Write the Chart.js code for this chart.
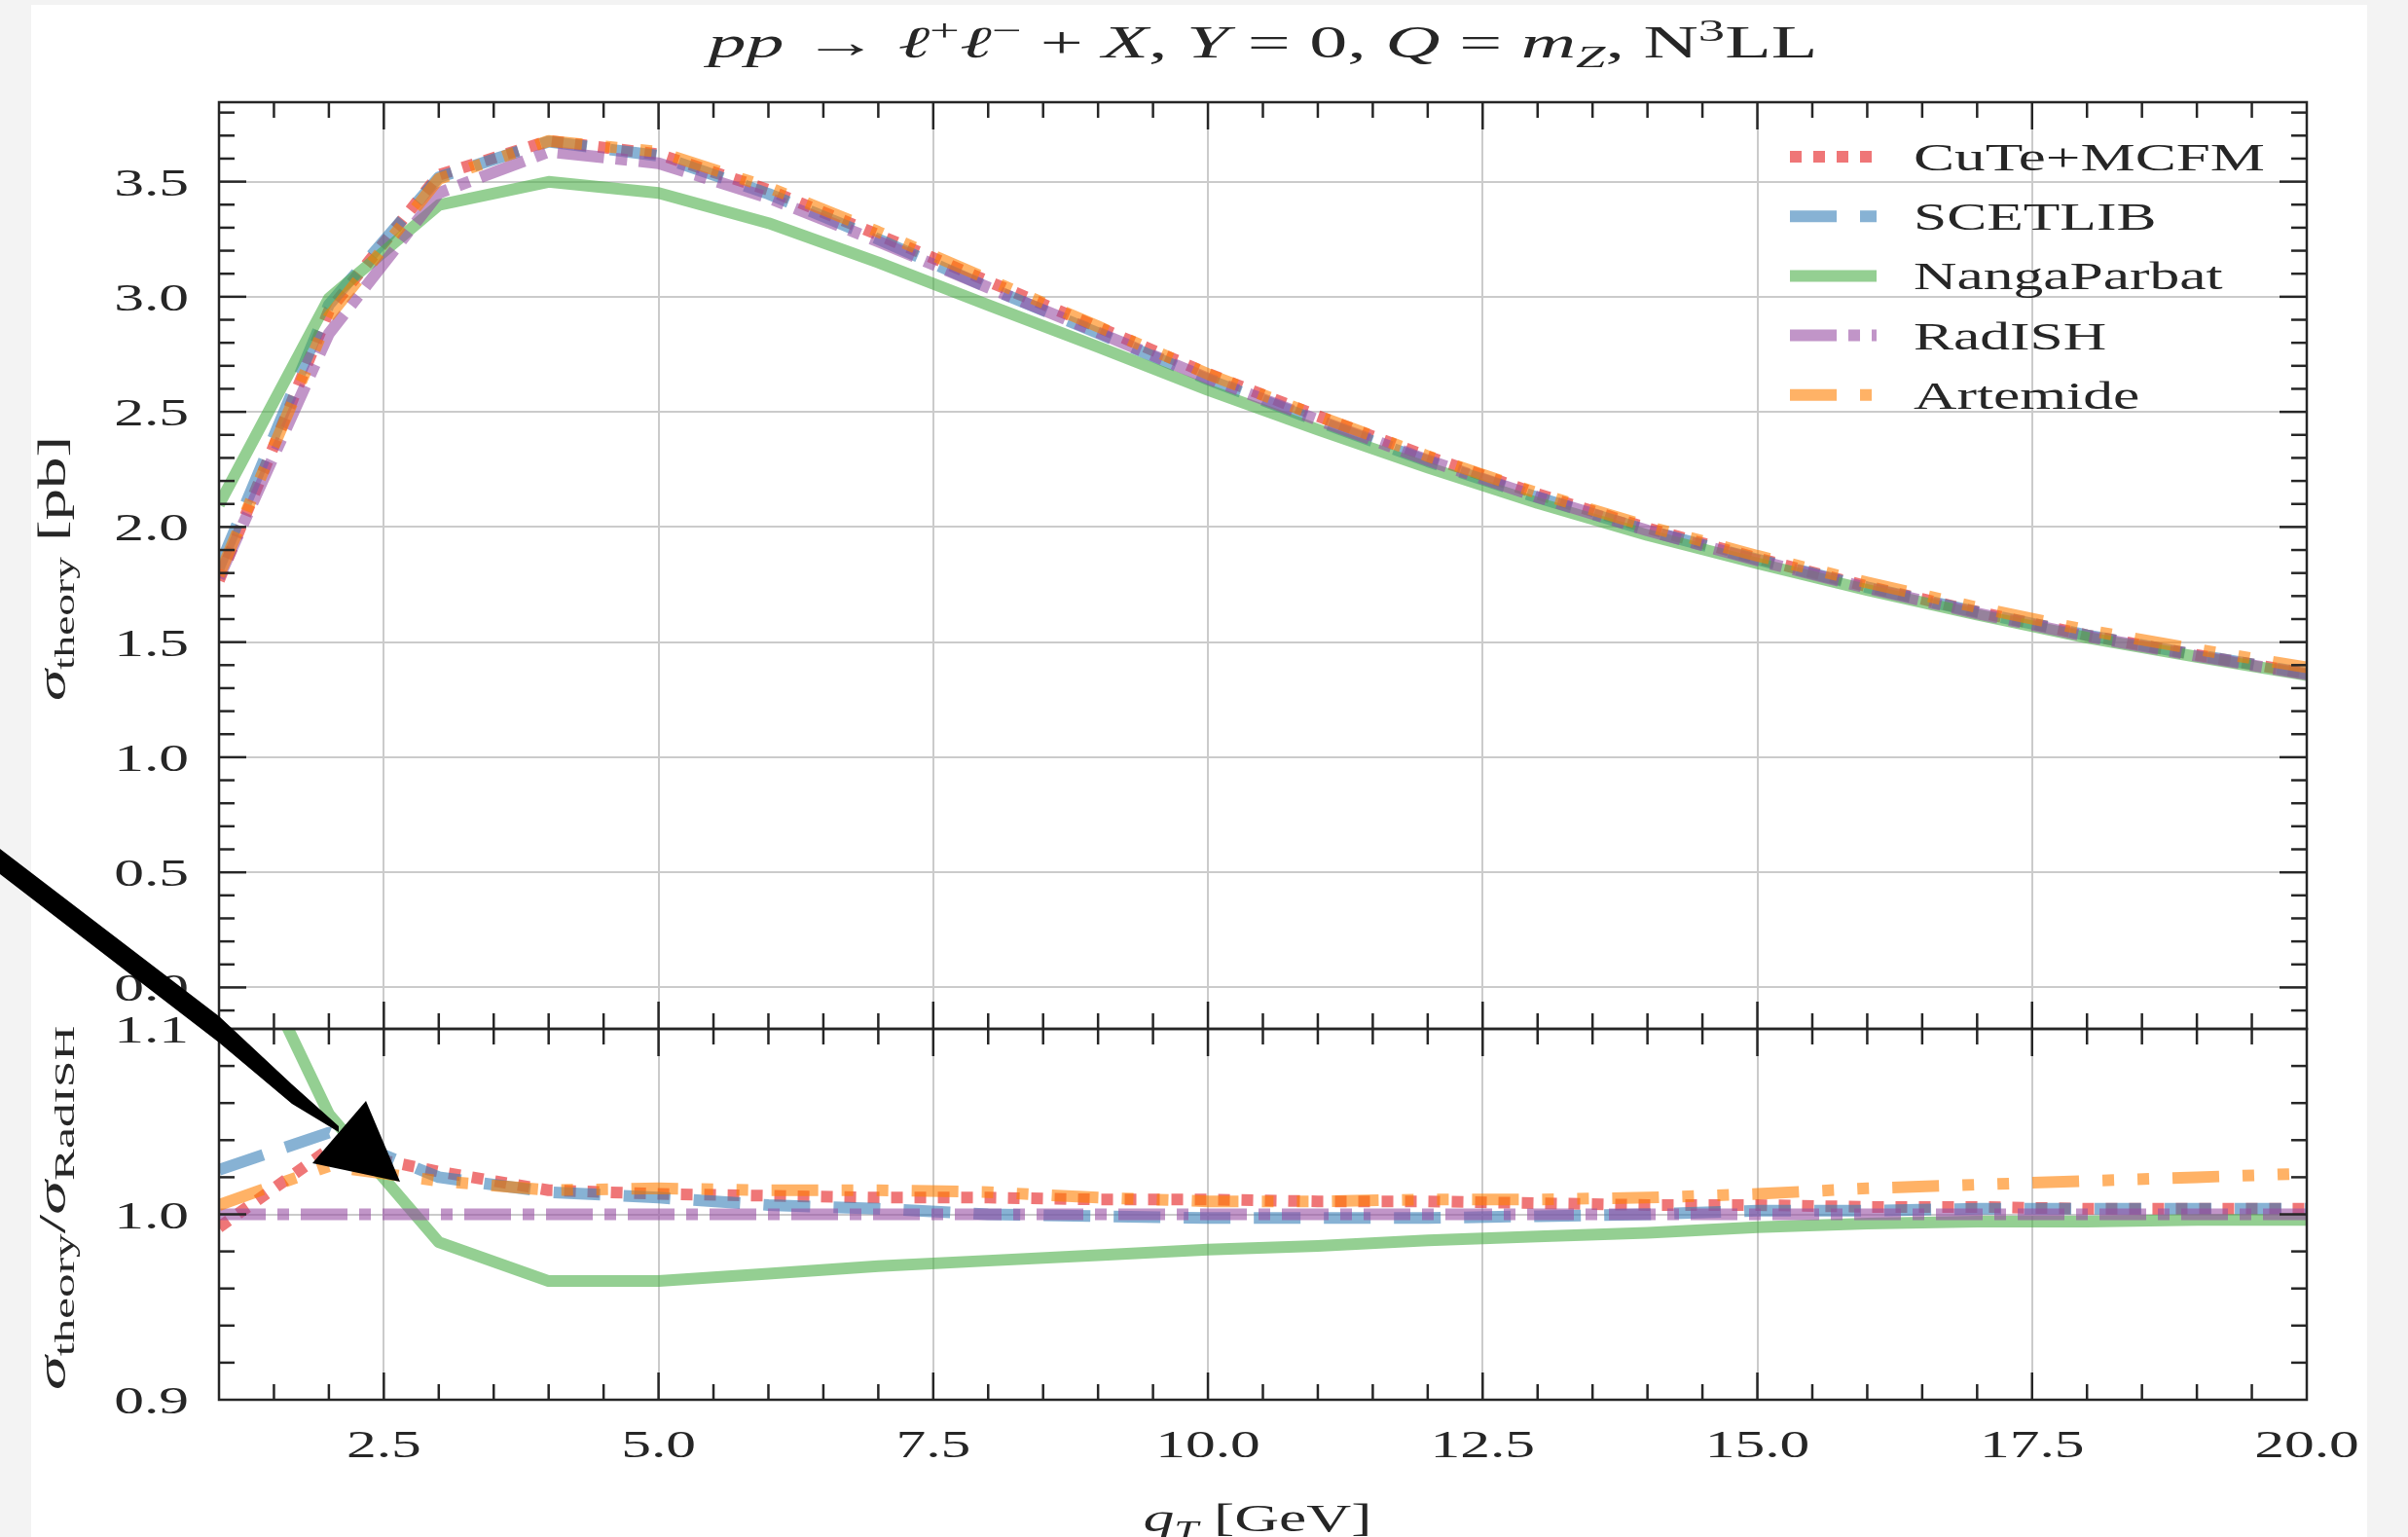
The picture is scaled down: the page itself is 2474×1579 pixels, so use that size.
<!DOCTYPE html>
<html>
<head>
<meta charset="utf-8">
<script src="https://cdn.jsdelivr.net/npm/chart.js@4.4.1/dist/chart.umd.min.js"></script>
<style>
  html, body { margin: 0; padding: 0; background: #f3f3f3; }
  #page { position: relative; width: 2474px; height: 1579px; overflow: hidden; }
  #sheet { position: absolute; left: 32px; top: 5px; width: 2400px; height: 1574px; background: #fff; }
  canvas { position: absolute; left: 0; top: 0; }
</style>
</head>
<body>
<div id="page">
  <div id="sheet"></div>
  <canvas id="upper" width="2474" height="1579"></canvas>
  <canvas id="lower" width="2474" height="1579"></canvas>
</div>
<script>
// q_T grid [GeV]
var qT = [1, 2, 3, 4, 5, 6, 7, 8, 9, 10, 11, 12, 13, 14, 15, 16, 17, 18, 19, 20];

// sigma_theory [pb]
var cuteMcfm    = [1.768, 2.939, 3.529, 3.677, 3.619, 3.464, 3.269, 3.067, 2.868, 2.666, 2.482, 2.306, 2.143, 1.995, 1.864, 1.742, 1.632, 1.530, 1.444, 1.364];
var scetlib     = [1.823, 2.965, 3.519, 3.674, 3.612, 3.447, 3.250, 3.040, 2.842, 2.640, 2.460, 2.285, 2.128, 1.985, 1.859, 1.738, 1.630, 1.530, 1.444, 1.364];
var nangaParbat = [2.097, 2.993, 3.398, 3.499, 3.451, 3.320, 3.149, 2.964, 2.782, 2.595, 2.423, 2.258, 2.104, 1.965, 1.842, 1.726, 1.619, 1.519, 1.436, 1.356];
var radish      = [1.780, 2.840, 3.450, 3.630, 3.580, 3.430, 3.240, 3.040, 2.845, 2.645, 2.465, 2.290, 2.130, 1.985, 1.855, 1.735, 1.625, 1.525, 1.440, 1.360];
var artemide    = [1.789, 2.914, 3.512, 3.677, 3.630, 3.475, 3.282, 3.076, 2.871, 2.664, 2.482, 2.308, 2.147, 2.003, 1.875, 1.759, 1.651, 1.552, 1.469, 1.390];

// sigma_theory / sigma_RadISH
var cuteRatio     = [0.993, 1.035, 1.023, 1.013, 1.011, 1.010, 1.009, 1.009, 1.008, 1.008, 1.007, 1.007, 1.006, 1.005, 1.005, 1.004, 1.004, 1.003, 1.003, 1.003];
var scetRatio     = [1.024, 1.044, 1.020, 1.012, 1.009, 1.005, 1.003, 1.000, 0.999, 0.998, 0.998, 0.998, 0.999, 1.000, 1.002, 1.002, 1.003, 1.003, 1.003, 1.003];
var nangaRatio    = [1.178, 1.054, 0.985, 0.964, 0.964, 0.968, 0.972, 0.975, 0.978, 0.981, 0.983, 0.986, 0.988, 0.990, 0.993, 0.995, 0.996, 0.996, 0.997, 0.997];
var radishRatio   = [1, 1, 1, 1, 1, 1, 1, 1, 1, 1, 1, 1, 1, 1, 1, 1, 1, 1, 1, 1];
var artemideRatio = [1.005, 1.026, 1.018, 1.013, 1.014, 1.013, 1.013, 1.012, 1.009, 1.007, 1.007, 1.008, 1.008, 1.009, 1.011, 1.014, 1.016, 1.018, 1.020, 1.022];

var seriesNames = ['CuTe+MCFM', 'SCETLIB', 'NangaParbat', 'RadISH', 'Artemide'];

// tick values
var xTickValues = [2.5, 5.0, 7.5, 10.0, 12.5, 15.0, 17.5, 20.0];
var sigmaTickValues = [0.0, 0.5, 1.0, 1.5, 2.0, 2.5, 3.0, 3.5];
var ratioTickValues = [0.9, 1.0, 1.1];

// line styles (Set1 colours at alpha 0.6)
var styles = [
  { color: 'rgba(228,26,28,0.6)',  dash: [12, 12] },
  { color: 'rgba(55,126,184,0.6)', dash: [48, 24] },
  { color: 'rgba(77,175,74,0.6)',  dash: [] },
  { color: 'rgba(152,78,163,0.6)', dash: [48, 12, 12, 12] },
  { color: 'rgba(255,127,0,0.6)',  dash: [48, 24, 12, 24, 12, 24] }
];

var FONT = '"Liberation Serif", "Times New Roman", serif';
var TEXT = '#262626';
var SIZE = 41;

function runFont(r, size) {
  var s = (r.sup || r.sub) ? size * 0.7 : size;
  return (r.it ? 'italic ' : '') + s + 'px ' + FONT;
}

// draws mixed italic / super / subscript text, stretched along the text direction
function drawRuns(ctx, runs, o) {
  ctx.save();
  var widths = runs.map(function (r) {
    ctx.font = runFont(r, o.size);
    return ctx.measureText(r.t).width;
  });
  var total = widths.reduce(function (a, b) { return a + b; }, 0);
  var sx = o.width ? o.width / total : 1.5;
  ctx.translate(o.x, o.y);
  if (o.rotate) ctx.rotate(o.rotate);
  ctx.scale(sx, 1);
  var cx = o.align === 'right' ? -total : (o.align === 'left' ? 0 : -total / 2);
  ctx.fillStyle = TEXT;
  ctx.textAlign = 'left';
  ctx.textBaseline = 'alphabetic';
  runs.forEach(function (r, i) {
    ctx.font = runFont(r, o.size);
    var dy = r.sup ? -o.size * 0.38 : (r.sub ? o.size * 0.22 : 0);
    ctx.fillText(r.t, cx, dy);
    cx += widths[i];
  });
  ctx.restore();
}

function isOneOf(v, list) {
  return list.some(function (m) { return Math.abs(m - v) < 1e-6; });
}

// inward ticks on all four sides plus the box
function drawFrame(chart, yMajors, yStep) {
  var ctx = chart.ctx, a = chart.chartArea;
  var xs = chart.scales.x, ys = chart.scales.y;
  var MAJ = 28, MIN = 16;
  ctx.save();
  ctx.strokeStyle = TEXT;
  ctx.lineWidth = 2.5;
  function seg(x1, y1, x2, y2) {
    ctx.beginPath(); ctx.moveTo(x1, y1); ctx.lineTo(x2, y2); ctx.stroke();
  }
  var k, v, p, L;
  for (k = Math.ceil(xs.min / 0.5); k * 0.5 <= xs.max + 1e-9; k++) {
    v = +(k * 0.5).toFixed(6);
    if (v <= xs.min || v >= xs.max) continue;
    L = isOneOf(v, xTickValues) ? MAJ : MIN;
    p = xs.getPixelForValue(v);
    seg(p, a.top, p, a.top + L);
    seg(p, a.bottom, p, a.bottom - L);
  }
  for (k = Math.ceil(ys.min / yStep - 1e-9); k * yStep <= ys.max + 1e-9; k++) {
    v = +(k * yStep).toFixed(6);
    if (v <= ys.min + 1e-9 || v >= ys.max - 1e-9) continue;
    L = isOneOf(v, yMajors) ? MAJ : MIN;
    p = ys.getPixelForValue(v);
    seg(a.left, p, a.left + L, p);
    seg(a.right, p, a.right - L, p);
  }
  ctx.strokeRect(a.left, a.top, a.right - a.left, a.bottom - a.top);
  ctx.restore();
}

function drawYLabels(chart) {
  var a = chart.chartArea, ys = chart.scales.y;
  ys.ticks.forEach(function (t) {
    drawRuns(chart.ctx, [{ t: t.value.toFixed(1) }],
      { x: a.left - 31, y: ys.getPixelForValue(t.value) + 14, align: 'right', size: SIZE });
  });
}

function makeDatasets(series) {
  return series.map(function (vals, i) {
    return {
      label: seriesNames[i],
      data: qT.map(function (q, j) { return { x: q, y: vals[j] }; }),
      borderColor: styles[i].color,
      borderDash: styles[i].dash,
      borderWidth: 12,
      borderCapStyle: 'butt',
      borderJoinStyle: 'round',
      pointRadius: 0,
      tension: 0,
      fill: false,
      clip: 0,
      order: 5 - i
    };
  });
}

function xScale() {
  return {
    type: 'linear', min: 1, max: 20,
    afterBuildTicks: function (s) { s.ticks = xTickValues.map(function (v) { return { value: v }; }); },
    ticks: { display: false },
    grid: { color: '#cbcbcb', lineWidth: 2, drawTicks: false },
    border: { display: false },
    afterFit: function (s) { s.height = 0; }
  };
}

function yScale(min, max, values) {
  return {
    type: 'linear', min: min, max: max,
    afterBuildTicks: function (s) { s.ticks = values.map(function (v) { return { value: v }; }); },
    ticks: { display: false },
    grid: { color: '#cbcbcb', lineWidth: 2, drawTicks: false },
    border: { display: false },
    afterFit: function (s) { s.width = 0; }
  };
}

var upperDecor = {
  id: 'upperDecor',
  afterDraw: function (chart) {
    var ctx = chart.ctx, a = chart.chartArea;
    drawFrame(chart, sigmaTickValues, 0.1);
    drawYLabels(chart);

    // legend
    var row0 = a.top + 56, step = 61.2;
    chart.data.datasets.forEach(function (ds, i) {
      var y = row0 + i * step;
      ctx.save();
      ctx.strokeStyle = ds.borderColor;
      ctx.lineWidth = ds.borderWidth;
      ctx.lineCap = 'butt';
      ctx.setLineDash(ds.borderDash);
      ctx.beginPath();
      ctx.moveTo(a.right - 531, y);
      ctx.lineTo(a.right - 442, y);
      ctx.stroke();
      ctx.restore();
      drawRuns(ctx, [{ t: ds.label }], { x: a.right - 404, y: y + 14, align: 'left', size: SIZE, width: i === 0 ? 361 : undefined });
    });

    // title
    drawRuns(ctx, [
      { t: 'pp', it: true }, { t: ' \u2192 ' }, { t: '\u2113', it: true }, { t: '+', sup: true },
      { t: '\u2113', it: true }, { t: '\u2212', sup: true }, { t: ' + ' }, { t: 'X', it: true },
      { t: ', ' }, { t: 'Y', it: true }, { t: ' = 0, ' }, { t: 'Q', it: true }, { t: ' = ' },
      { t: 'm', it: true }, { t: 'Z', it: true, sub: true }, { t: ', N' }, { t: '3', sup: true }, { t: 'LL' }
    ], { x: (a.left + a.right) / 2, y: 59, align: 'center', size: 46, width: 1140 });

    // y label
    drawRuns(ctx, [{ t: '\u03c3', it: true }, { t: 'theory', sub: true }, { t: ' [pb]' }],
      { x: 67, y: 584, rotate: -Math.PI / 2, align: 'center', size: SIZE, width: 272 });
  }
};

var lowerDecor = {
  id: 'lowerDecor',
  afterDraw: function (chart) {
    var ctx = chart.ctx, a = chart.chartArea, xs = chart.scales.x;
    drawFrame(chart, ratioTickValues, 0.02);
    drawYLabels(chart);

    xs.ticks.forEach(function (t) {
      drawRuns(ctx, [{ t: t.value.toFixed(1) }],
        { x: xs.getPixelForValue(t.value), y: a.bottom + 59, align: 'center', size: SIZE });
    });

    drawRuns(ctx, [{ t: 'q', it: true }, { t: 'T', it: true, sub: true }, { t: ' [GeV]' }],
      { x: 1292, y: 1573, align: 'center', size: SIZE, width: 235 });

    drawRuns(ctx, [{ t: '\u03c3', it: true }, { t: 'theory', sub: true }, { t: '/' },
                   { t: '\u03c3', it: true }, { t: 'RadISH', sub: true }],
      { x: 67, y: 1241, rotate: -Math.PI / 2, align: 'center', size: SIZE, width: 374 });

    // hand-drawn annotation arrow lying over the picture
    ctx.save();
    ctx.fillStyle = '#000';
    ctx.beginPath();
    ctx.moveTo(0, 872); ctx.lineTo(225, 1044); ctx.lineTo(300, 1114); ctx.lineTo(348, 1157);
    ctx.lineTo(348, 1163); ctx.lineTo(300, 1134); ctx.lineTo(225, 1071); ctx.lineTo(0, 898);
    ctx.closePath();
    ctx.fill();
    ctx.beginPath();
    ctx.moveTo(376, 1131); ctx.lineTo(321, 1195); ctx.lineTo(411, 1214);
    ctx.closePath();
    ctx.fill();
    ctx.restore();
  }
};

function baseOptions(padding, yOpts) {
  return {
    responsive: false,
    animation: false,
    layout: { padding: padding },
    plugins: { legend: { display: false }, tooltip: { enabled: false }, title: { display: false } },
    scales: { x: xScale(), y: yOpts }
  };
}

new Chart(document.getElementById('upper'), {
  type: 'line',
  data: { datasets: makeDatasets([cuteMcfm, scetlib, nangaParbat, radish, artemide]) },
  options: baseOptions({ left: 225, right: 104, top: 105, bottom: 522 }, yScale(-0.18, 3.845, sigmaTickValues)),
  plugins: [upperDecor]
});

new Chart(document.getElementById('lower'), {
  type: 'line',
  data: { datasets: makeDatasets([cuteRatio, scetRatio, nangaRatio, radishRatio, artemideRatio]) },
  options: baseOptions({ left: 225, right: 104, top: 1057, bottom: 141 }, yScale(0.9, 1.1, ratioTickValues)),
  plugins: [lowerDecor]
});
</script>
</body>
</html>
